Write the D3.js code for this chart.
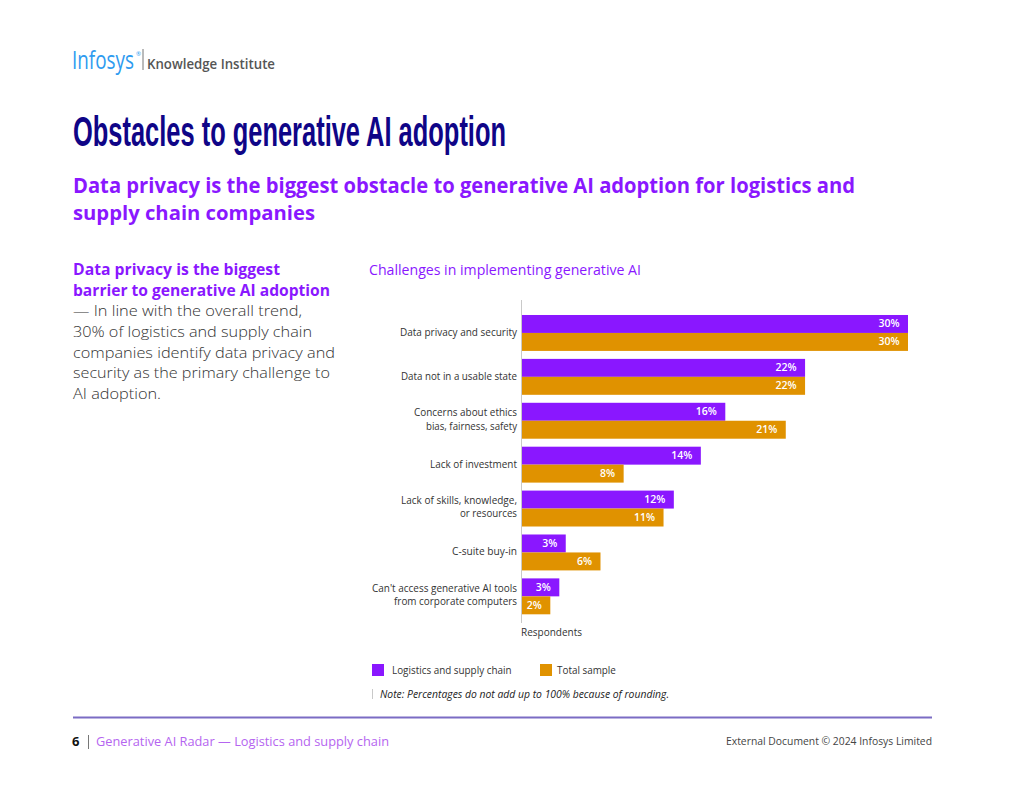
<!DOCTYPE html>
<html>
<head>
<meta charset="utf-8">
<script src="https://cdn.jsdelivr.net/npm/d3@7"></script>
<style>
html,body{margin:0;padding:0;background:#fff}
svg{display:block}
text{font-family:"Open Sans",sans-serif}
</style>
</head>
<body>
<script>
let categories = [
  ['Data privacy and security'],
  ['Data not in a usable state'],
  ['Concerns about ethics', 'bias, fairness, safety'],
  ['Lack of investment'],
  ['Lack of skills, knowledge,', 'or resources'],
  ['C-suite buy-in'],
  ["Can't access generative AI tools", 'from corporate computers']
];
let logistics = [30, 22, 15.8, 13.9, 11.8, 3.4, 2.9];
let totalSample = [30, 22, 20.5, 7.9, 11, 6.1, 2.2];
let seriesNames = ['Logistics and supply chain', 'Total sample'];
let seriesColors = ['#8a17ff', '#e09200'];

let w = 1024, h = 791;
let svg = d3.select('body').append('svg').attr('width', w).attr('height', h);

let addText = (x, y, str, size, color, weight, anchor) => svg.append('text')
  .attr('x', x).attr('y', y).text(str)
  .style('font-size', size + 'px')
  .style('fill', color)
  .style('font-weight', weight || 400)
  .attr('text-anchor', anchor || 'start');

// header
let logo = addText(0, 0, 'Infosys', 25, '#2e9bf0', 400);
logo.attr('transform', `translate(72,69) scale(${62 / logo.node().getComputedTextLength()},1)`);
addText(136, 56, '®', 6, '#2e9bf0');
svg.append('line').attr('x1', 143).attr('x2', 143).attr('y1', 49).attr('y2', 70).attr('stroke', '#777');
addText(147, 69, 'Knowledge Institute', 14, '#555', 600).attr('textLength', 128).attr('lengthAdjust', 'spacingAndGlyphs');

addText(73, 146, 'Obstacles to generative AI adoption', 42, '#0f0587', 700)
  .style('font-family', '"Liberation Sans"')
  .attr('textLength', 433).attr('lengthAdjust', 'spacingAndGlyphs');
addText(73, 193, 'Data privacy is the biggest obstacle to generative AI adoption for logistics and', 21.5, '#8a17ff', 700).attr('textLength', 782).attr('lengthAdjust', 'spacingAndGlyphs');
addText(73, 220, 'supply chain companies', 19.5, '#8a17ff', 700).attr('textLength', 242).attr('lengthAdjust', 'spacingAndGlyphs');

// left column
let leftBold = [['Data privacy is the biggest', 207], ['barrier to generative AI adoption', 257]];
leftBold.forEach((d, i) => addText(73, 275 + i * 21, d[0], 15.2, '#8a17ff', 700).attr('textLength', d[1]).attr('lengthAdjust', 'spacingAndGlyphs'));
let leftBody = [['— In line with the overall trend,', 229], ['30% of logistics and supply chain', 239], ['companies identify data privacy and', 262], ['security as the primary challenge to', 257], ['AI adoption.', 88]];
leftBody.forEach((d, i) => addText(73, 316 + i * 20.8, d[0], 15.2, '#333', 300).attr('textLength', d[1]).attr('lengthAdjust', 'spacingAndGlyphs'));

addText(369, 275, 'Challenges in implementing generative AI', 14, '#8a17ff', 400).attr('textLength', 272).attr('lengthAdjust', 'spacingAndGlyphs');

// chart
let x = d3.scaleLinear().domain([0, 30]).range([522, 908]);
let y = d3.scaleBand().domain(d3.range(categories.length)).range([311, 618.3]).paddingInner(8 / 44).paddingOuter(4 / 44);
let y1 = d3.scaleBand().domain([0, 1]).range([0, y.bandwidth()]);

svg.append('line').attr('x1', 521.5).attr('x2', 521.5).attr('y1', 300).attr('y2', 623).attr('stroke', '#c9c9c9');

[logistics, totalSample].forEach((vals, s) => {
  let g = svg.append('g').attr('class', 'series');
  g.selectAll('rect').data(vals).enter().append('rect')
    .attr('x', x(0))
    .attr('y', (d, i) => y(i) + y1(s))
    .attr('width', d => x(d) - x(0))
    .attr('height', y1.bandwidth())
    .attr('fill', seriesColors[s]);
  g.selectAll('text').data(vals).enter().append('text')
    .attr('x', d => x(d) - 8.5)
    .attr('y', (d, i) => y(i) + y1(s) + y1.bandwidth() / 2 + 3.5)
    .attr('text-anchor', 'end')
    .style('font-size', '10.5px')
    .style('font-weight', 600)
    .style('fill', '#fff')
    .text(d => Math.round(d) + '%');
});

let labelWidths = [[117], [116], [103, 91], [87], [116, 57], [65], [145, 123]];
categories.forEach((lines, i) => {
  let cy = y(i) + y.bandwidth() / 2;
  lines.forEach((l, j) => {
    let off = lines.length > 1 ? -1 : 0;
    addText(517, cy + 3 + off + (j - (lines.length - 1) / 2) * 13.7, l, 10, '#333', 400, 'end')
      .attr('textLength', labelWidths[i][j]).attr('lengthAdjust', 'spacingAndGlyphs');
  });
});

addText(521, 636, 'Respondents', 10, '#333');

// legend
seriesNames.forEach((n, i) => {
  let lx = [372, 540][i], tx = [392, 557][i];
  svg.append('rect').attr('x', lx).attr('y', 664).attr('width', 12).attr('height', 12).attr('fill', seriesColors[i]);
  addText(tx, 674, n, 9.9, '#333');
});

svg.append('line').attr('x1', 372.5).attr('x2', 372.5).attr('y1', 689).attr('y2', 699).attr('stroke', '#c9c9c9');
addText(380, 698, 'Note: Percentages do not add up to 100% because of rounding.', 10.3, '#222').style('font-style', 'italic').attr('textLength', 289).attr('lengthAdjust', 'spacingAndGlyphs');

// footer
svg.append('line').attr('x1', 73).attr('x2', 932).attr('y1', 717.5).attr('y2', 717.5).attr('stroke', '#7b6cc4').attr('stroke-width', 2);
addText(72, 746, '6', 13, '#111', 700);
svg.append('line').attr('x1', 88.5).attr('x2', 88.5).attr('y1', 735).attr('y2', 749).attr('stroke', '#777');
addText(96, 746, 'Generative AI Radar — Logistics and supply chain', 12.5, '#b565f0', 400).attr('textLength', 293).attr('lengthAdjust', 'spacingAndGlyphs');
addText(932, 745, 'External Document © 2024 Infosys Limited', 10.8, '#444', 400, 'end').attr('textLength', 206).attr('lengthAdjust', 'spacingAndGlyphs');
</script>
</body>
</html>
